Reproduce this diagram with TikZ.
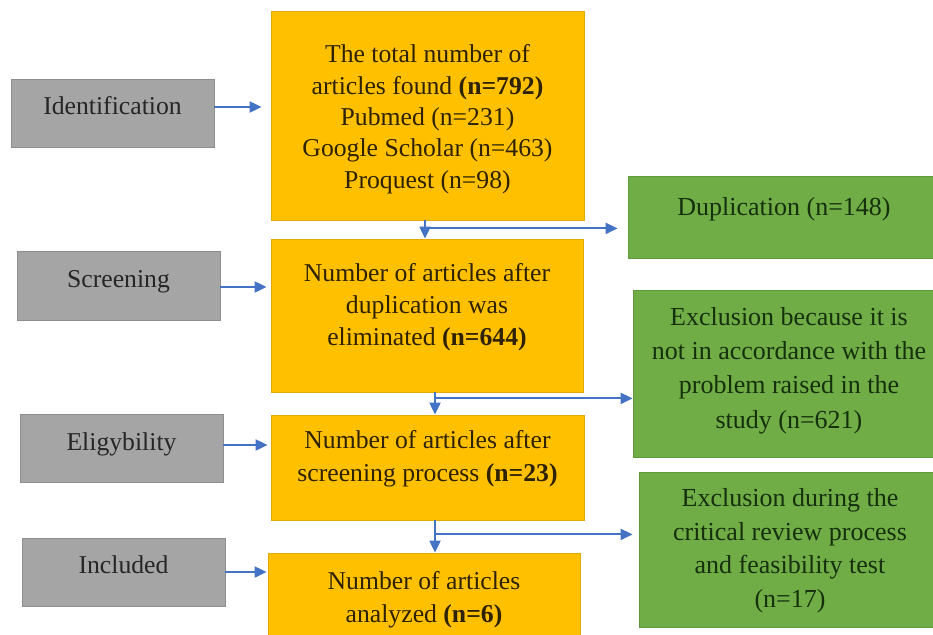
\documentclass[tikz,border=0pt]{standalone}
\usepackage{fontspec}
\setmainfont{Liberation Serif}
\usetikzlibrary{arrows.meta}
\definecolor{boxgray}{HTML}{A5A5A5}
\definecolor{boxgrayb}{HTML}{8E8E8E}
\definecolor{boxyel}{HTML}{FFC000}
\definecolor{boxyelb}{HTML}{E2A900}
\definecolor{boxgrn}{HTML}{70AD47}
\definecolor{boxgrnb}{HTML}{5F9A3B}
\definecolor{arrblue}{HTML}{4472C4}
\definecolor{txtgray}{HTML}{262626}
\definecolor{txtyel}{HTML}{2E2200}
\definecolor{txtgrn}{HTML}{16300C}
\begin{document}
\begin{tikzpicture}[x=1pt,y=-1pt,
  graybox/.style={rectangle,draw=boxgrayb,fill=boxgray,line width=0.8pt,inner sep=0pt},
  yelbox/.style={rectangle,draw=boxyelb,fill=boxyel,line width=0.8pt,inner sep=0pt},
  grnbox/.style={rectangle,draw=boxgrnb,fill=boxgrn,line width=0.8pt,inner sep=0pt},
  graytxt/.style={anchor=base,inner sep=0pt,text=txtgray,font=\fontsize{25.7}{32}\selectfont},
  yeltxt/.style={anchor=base,inner sep=0pt,align=center,text=txtyel,font=\fontsize{25.7}{#1}\selectfont},
  grntxt/.style={anchor=base,inner sep=0pt,align=center,text=txtgrn,font=\fontsize{26}{#1}\selectfont},
  arr/.style={draw=arrblue,line width=2pt,-{Triangle[length=12pt,width=11pt]}}]
\useasboundingbox (0,0) rectangle (933,634);
\clip (0,0) rectangle (933,634);
\fill[white] (0,0) rectangle (933,634);
% phase boxes
\node[graybox,minimum width=203pt,minimum height=68pt] (idb) at (112.5,113) {};
\node[graybox,minimum width=203pt,minimum height=69pt] (scb) at (118.5,285.5) {};
\node[graybox,minimum width=203pt,minimum height=68pt] (elb) at (121.5,448) {};
\node[graybox,minimum width=203pt,minimum height=68pt] (inb) at (123.5,572) {};
\node[graytxt] (idt) at (112.5,114) {Identification};
\node[graytxt] (sct) at (118.5,287) {Screening};
\node[graytxt] (elt) at (121.5,450) {Eligybility};
\node[graytxt] (int) at (123.5,573) {Included};
% main flow boxes
\node[yelbox,minimum width=313pt,minimum height=209pt] (y1) at (427.5,115.5) {};
\node[yelbox,minimum width=312pt,minimum height=153pt] (y2) at (427,315.5) {};
\node[yelbox,minimum width=313pt,minimum height=105pt] (y3) at (427.5,467.5) {};
\node[yelbox,minimum width=312pt,minimum height=107pt] (y4) at (424,606.5) {};
\node[yeltxt=31.3] (y1t) at (427.5,188) {The total number of\\articles found \textbf{(n=792)}\\Pubmed (n=231)\\Google Scholar (n=463)\\Proquest (n=98)};
\node[yeltxt=32] (y2t) at (427,345) {Number of articles after\\duplication was\\eliminated \textbf{(n=644)}};
\node[yeltxt=33] (y3t) at (427.5,481) {Number of articles after\\screening process \textbf{(n=23)}};
\node[yeltxt=33] (y4t) at (424,622) {Number of articles\\analyzed \textbf{(n=6)}};
% exclusion boxes
\node[grnbox,minimum width=312pt,minimum height=82pt] (g1) at (784,217) {};
\node[grnbox,minimum width=312pt,minimum height=167pt] (g2) at (789,373.5) {};
\node[grnbox,minimum width=302pt,minimum height=155pt] (g3) at (790,549.5) {};
\node[grntxt=34] (g1t) at (784,215) {Duplication (n=148)};
\node[grntxt=34.3] (g2t) at (789,428) {Exclusion because it is\\not in accordance with the\\problem raised in the\\study (n=621)};
\node[grntxt=33.5] (g3t) at (790,607) {Exclusion during the\\critical review process\\and feasibility test\\(n=17)};
% phase arrows
\draw[arr,shorten >=9pt] ([yshift=6pt]idb.east) -- ([yshift=6pt]idb.east -| y1.west);
\draw[arr,shorten >=4pt] ([yshift=-1.5pt]scb.east) -- ([yshift=-1.5pt]scb.east -| y2.west);
\draw[arr,shorten >=3pt] ([yshift=3pt]elb.east) -- ([yshift=3pt]elb.east -| y3.west);
\draw[arr,shorten >=1pt] (inb.east) -- (inb.east -| y4.west);
% flow arrows
\draw[arr] ([xshift=-2.5pt]y1.south) -- ([xshift=-2pt]y2.north);
\coordinate (b1) at ([xshift=-2.5pt,yshift=-8pt]y1.south);
\draw[arr,shorten >=10pt] (b1) -- (b1 -| g1.west);
\draw[arr] ([xshift=8pt]y2.south) -- ([xshift=7.5pt]y3.north);
\coordinate (b2) at ([xshift=8pt,yshift=-6pt]y2.south);
\draw[arr] (b2) -- (b2 -| g2.west);
\draw[arr] ([xshift=7.5pt]y3.south) -- ([xshift=11pt]y4.north);
\coordinate (b3) at ([xshift=7.5pt,yshift=-14pt]y3.south);
\draw[arr,shorten >=6pt] (b3) -- (b3 -| g3.west);
\end{tikzpicture}
\end{document}
